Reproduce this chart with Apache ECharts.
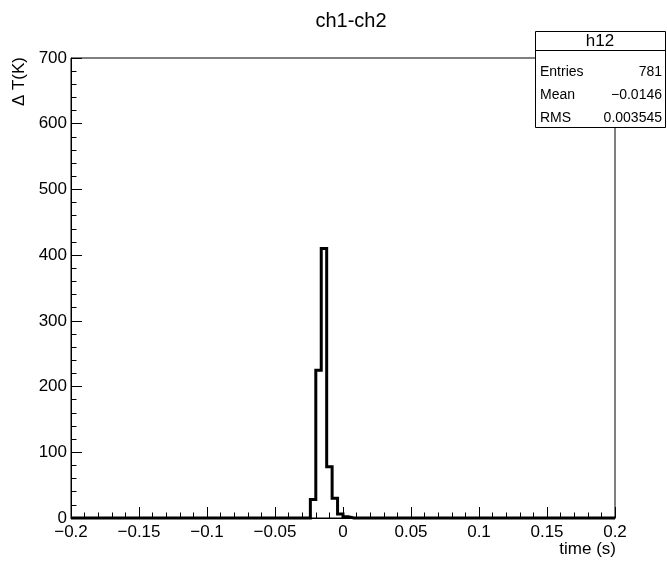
<!DOCTYPE html>
<html>
<head>
<meta charset="utf-8">
<script src="https://cdn.jsdelivr.net/npm/echarts@6/dist/echarts.min.js"></script>
<style>html,body{margin:0;padding:0;background:#fff;}#c{width:667px;height:563px;}</style>
</head>
<body>
<div id="c"></div>
<script>
// Histogram h12: 100 bins from -0.2 to 0.2
var xMin = -0.2;
var xMax = 0.2;
var binCount = 100;
var counts = [
  0,0,0,0,0,0,0,0,0,0,
  0,0,0,0,0,0,0,0,0,0,
  0,0,0,0,0,0,0,0,0,0,
  0,0,0,0,0,0,0,0,0,0,
  0,0,0,0,28,225,410,78,30,6,
  2,0,0,0,0,0,0,0,0,0,
  0,0,0,0,0,0,0,0,0,0,
  0,0,0,0,0,0,0,0,0,0,
  0,0,0,0,0,0,0,0,0,0,
  0,0,0,0,0,0,0,0,0,0
];
var xTicks = [-0.2, -0.15, -0.1, -0.05, 0, 0.05, 0.1, 0.15, 0.2];
var yTicks = [0, 100, 200, 300, 400, 500, 600, 700];
var statsNames = ['Entries', 'Mean', 'RMS'];
var statsValues = ['781', '\u22120.0146', '0.003545'];

var binW = (xMax - xMin) / binCount;
var pts = [];
for (var i = 0; i < binCount; i++) {
  var lo = xMin + i * binW, hi = lo + binW;
  pts.push([lo, counts[i]]);
  pts.push([hi, counts[i]]);
}

var FONT = 'Liberation Sans, Arial, Helvetica, sans-serif';
var chart = echarts.init(document.getElementById('c'), null, {renderer: 'canvas'});

var gl = 71, gr = 615, gt = 58, gb = 518;
var statsGraphics = [
  {type: 'rect', shape: {x: 535.5, y: 31.5, width: 130, height: 96}, style: {fill: '#fff', stroke: '#000', lineWidth: 1}},
  {type: 'line', shape: {x1: 535.5, y1: 50.5, x2: 665.5, y2: 50.5}, style: {stroke: '#000', lineWidth: 1}},
  {type: 'text', x: 600, y: 41, style: {text: 'h12', font: '17px ' + FONT, fill: '#000', align: 'center', verticalAlign: 'middle'}}
];
for (var k = 0; k < statsNames.length; k++) {
  statsGraphics.push({type: 'text', x: 540, y: 72 + k * 23, style: {text: statsNames[k], font: '14px ' + FONT, fill: '#000', align: 'left', verticalAlign: 'middle'}});
  statsGraphics.push({type: 'text', x: 662, y: 72 + k * 23, style: {text: statsValues[k], font: '14px ' + FONT, fill: '#000', align: 'right', verticalAlign: 'middle'}});
}

function fmt(v) {
  var s = String(Math.round(v * 1000) / 1000);
  return s.replace('-', '\u2212');
}

chart.setOption({
  animation: false,
  backgroundColor: '#fff',
  title: {
    text: 'ch1-ch2', left: 346, top: 6, textAlign: 'center',
    textStyle: {fontFamily: FONT, fontSize: 20, fontWeight: 'normal', color: '#000'}
  },
  grid: {left: gl, right: 667 - gr, top: gt, bottom: 563 - gb, show: true, borderColor: '#000', borderWidth: 1, backgroundColor: 'transparent'},
  xAxis: {
    type: 'value', min: xMin, max: xMax, interval: 0.05,
    axisLine: {show: true, onZero: false, lineStyle: {color: '#000', width: 1}},
    axisTick: {show: true, inside: true, length: 11, lineStyle: {color: '#000'}},
    minorTick: {show: true, splitNumber: 5, length: 5.5, lineStyle: {color: '#000'}},
    splitLine: {show: false},
    axisLabel: {fontFamily: FONT, fontSize: 17, color: '#000', margin: 6, formatter: fmt, showMinLabel: true, showMaxLabel: true}
  },
  yAxis: {
    type: 'value', min: 0, max: 700, interval: 100,
    axisLine: {show: true, onZero: false, lineStyle: {color: '#000', width: 1}},
    axisTick: {show: true, inside: true, length: 11, lineStyle: {color: '#000'}},
    minorTick: {show: true, splitNumber: 5, length: 5.5, lineStyle: {color: '#000'}},
    splitLine: {show: false},
    axisLabel: {fontFamily: FONT, fontSize: 17, color: '#000', margin: 4, showMinLabel: true, showMaxLabel: true}
  },
  series: [{
    type: 'line', data: pts, symbol: 'none', clip: false,
    lineStyle: {color: '#000', width: 3, join: 'miter'},
    z: 3
  }],
  graphic: statsGraphics.concat([
    {type: 'text', x: 616, y: 549, style: {text: 'time (s)', font: '17px ' + FONT, fill: '#000', align: 'right', verticalAlign: 'middle'}},
    {type: 'text', x: 19, y: 57, rotation: Math.PI / 2, style: {text: '\u0394 T(K)', font: '17px ' + FONT, fill: '#000', align: 'right', verticalAlign: 'middle'}}
  ])
});
</script>
</body>
</html>
